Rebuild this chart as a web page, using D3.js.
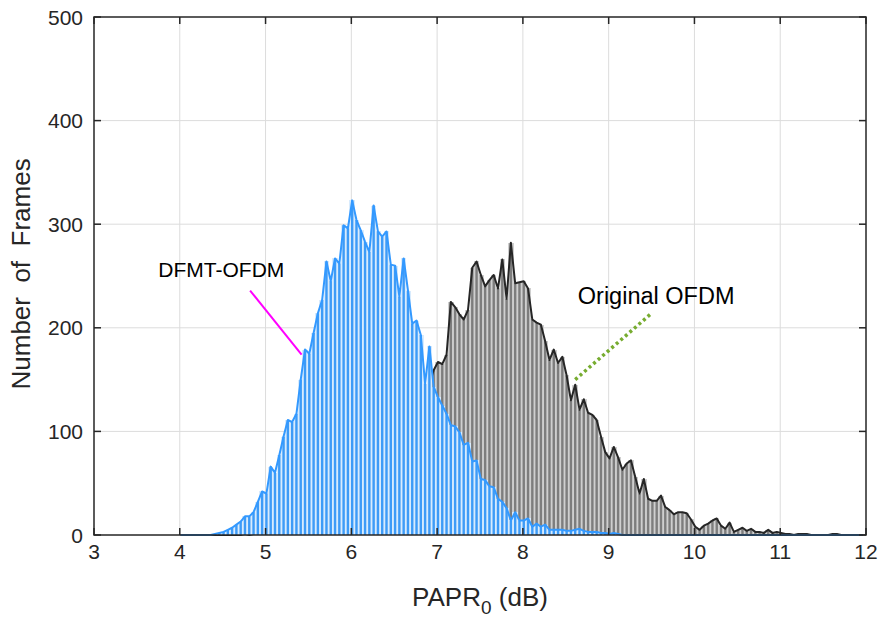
<!DOCTYPE html>
<html><head><meta charset="utf-8">
<script src="https://cdn.jsdelivr.net/npm/d3@7/dist/d3.min.js"></script>
<style>body{margin:0;background:#fff}svg{display:block}</style>
</head><body><svg id="chart" width="885" height="617"></svg>
<script>
// Histogram bins: centres start at 4.01 dB, width 0.05 dB
const binStart = 4.01;
const binWidth = 0.05;
const dfmtCounts = [
  0,0,0,0,0,0,0,0,
  1,2,3,5,7,10,13,18,18,22,32,42,
  40,66,60,77,95,111,109,117,150,179,
  175,195,214,227,264,245,267,262,299,296,
  323,304,294,283,273,318,293,288,293,261,
  260,230,267,236,204,207,193,146,182,143,
  133,125,117,106,105,99,87,89,71,72,
  54,53,47,46,35,32,26,14,22,14,
  14,16,8,11,8,10,5,5,5,5,
  4,4,5,6,4,3,3,3,2,2,
  1,2,1,0,0,0,0,0,0,0,
  0,0,0,0,0,0,0,0,0,0,
  0,0,0,0,0,0,0,0,0,0,
  0,0,0,0,0,0,0,0,0,0,
  0,0,0,0,0,0,0,0,0,0,
  0,0,0,0,0,0,0,0,0,0
];
const ofdmCounts = [
  0,0,0,0,0,0,0,0,
  0,0,0,0,0,0,0,1,0,1,1,2,
  2,3,4,5,6,8,9,11,13,15,
  18,21,24,28,31,36,40,45,51,56,
  62,67,74,80,86,91,98,104,110,116,
  121,126,130,134,138,141,138,130,145,159,
  167,165,174,225,220,213,208,217,258,264,
  251,240,246,251,238,266,228,282,243,244,
  245,238,208,205,203,187,169,179,166,172,
  154,130,145,121,131,118,116,111,95,80,
  74,85,75,63,69,72,56,40,54,35,
  33,33,38,27,24,20,22,22,21,15,
  8,5,9,11,14,16,9,6,12,3,
  5,7,4,6,3,3,2,5,2,3,
  2,1,1,0,1,1,1,0,0,0,
  0,0,1,1,0,0,0,0,0,0
];
const xTicks = [3,4,5,6,7,8,9,10,11,12];
const yTicks = [0,100,200,300,400,500];
const xLabel = "PAPR";
const xLabelSub = "0";
const xLabelUnit = " (dB)";
const yLabel = "Number  of  Frames";
const dfmtName = "DFMT-OFDM";
const ofdmName = "Original OFDM";
// annotation pointers in data coordinates [x, y]
const dfmtPointer = [[4.82, 236], [5.42, 174]];
const ofdmPointer = [[8.61, 150], [9.50, 214]];
const dfmtTextPos = [3.75, 249];
const ofdmTextPos = [8.64, 223];

const svg = d3.select("#chart");
const m = {l: 94, r: 866, t: 17, b: 535};
const x = d3.scaleLinear().domain([3, 12]).range([m.l, m.r]);
const y = d3.scaleLinear().domain([0, 500]).range([m.b, m.t]);
const font = "'Liberation Sans', Arial, Helvetica, sans-serif";
const ink = "#262626";

// grid
const g = svg.append("g");
g.selectAll(".gx").data(xTicks.slice(1, -1)).join("line")
  .attr("x1", d => x(d)).attr("x2", d => x(d)).attr("y1", m.t).attr("y2", m.b)
  .attr("stroke", "#dcdcdc").attr("stroke-width", 1);
g.selectAll(".gy").data(yTicks.slice(1, -1)).join("line")
  .attr("y1", d => y(d)).attr("y2", d => y(d)).attr("x1", m.l).attr("x2", m.r)
  .attr("stroke", "#dcdcdc").attr("stroke-width", 1);

function bins(arr) {
  return arr.map((v, i) => ({c: binStart + i * binWidth, v}));
}
const blue = bins(dfmtCounts), gray = bins(ofdmCounts);

function drawBars(data, light, dark) {
  const gg = svg.append("g");
  const nz = data.filter(d => d.v > 0);
  gg.selectAll(".l").data(nz).join("rect")
    .attr("x", d => x(d.c - binWidth / 2) - 0.6)
    .attr("width", d => x(d.c + binWidth / 2) - x(d.c - binWidth / 2) + 1.2)
    .attr("y", d => y(d.v)).attr("height", d => y(0) - y(d.v)).attr("fill", light)
    .attr("shape-rendering", "crispEdges");
  gg.selectAll(".d").data(nz).join("rect")
    .attr("x", d => x(d.c - binWidth * 0.28)).attr("width", d => x(d.c + binWidth * 0.28) - x(d.c - binWidth * 0.28))
    .attr("y", d => y(d.v)).attr("height", d => y(0) - y(d.v)).attr("fill", dark);
}
const line = d3.line().x(d => x(d.c)).y(d => y(d.v));

drawBars(gray, "#cfcfcf", "#7d7d7d");
svg.append("path").datum(gray).attr("d", line).attr("fill", "none")
  .attr("stroke", "#262626").attr("stroke-width", 2).attr("stroke-linejoin", "round");
drawBars(blue, "#d8ebfd", "#3d9bf7");
svg.append("path").datum(blue).attr("d", line).attr("fill", "none")
  .attr("stroke", "#3399ff").attr("stroke-width", 2).attr("stroke-linejoin", "round");

// axes box
const ax = svg.append("g");
ax.append("rect").attr("x", m.l).attr("y", m.t).attr("width", m.r - m.l).attr("height", m.b - m.t)
  .attr("fill", "none").attr("stroke", ink).attr("stroke-width", 1.5);
const tl = 7;
xTicks.forEach(t => {
  ax.append("line").attr("x1", x(t)).attr("x2", x(t)).attr("y1", m.b).attr("y2", m.b - tl).attr("stroke", ink).attr("stroke-width", 1.5);
  ax.append("line").attr("x1", x(t)).attr("x2", x(t)).attr("y1", m.t).attr("y2", m.t + tl).attr("stroke", ink).attr("stroke-width", 1.5);
  ax.append("text").attr("x", x(t)).attr("y", m.b + 24).attr("text-anchor", "middle")
    .attr("font-family", font).attr("font-size", 21).attr("fill", ink).text(t);
});
yTicks.forEach(t => {
  ax.append("line").attr("x1", m.l).attr("x2", m.l + tl).attr("y1", y(t)).attr("y2", y(t)).attr("stroke", ink).attr("stroke-width", 1.5);
  ax.append("line").attr("x1", m.r).attr("x2", m.r - tl).attr("y1", y(t)).attr("y2", y(t)).attr("stroke", ink).attr("stroke-width", 1.5);
  ax.append("text").attr("x", m.l - 11).attr("y", y(t) + 7.5).attr("text-anchor", "end")
    .attr("font-family", font).attr("font-size", 21).attr("fill", ink).text(t);
});

// axis labels
const xl = svg.append("text").attr("x", x(7.5)).attr("y", 606).attr("text-anchor", "middle")
  .attr("font-family", font).attr("font-size", 26).attr("fill", ink);
xl.append("tspan").text(xLabel);
xl.append("tspan").attr("font-size", 19).attr("dy", 8).text(xLabelSub);
xl.append("tspan").attr("dy", -8).text(xLabelUnit);
svg.append("text").attr("transform", `translate(30,${y(252)}) rotate(-90)`).attr("text-anchor", "middle")
  .attr("font-family", font).attr("font-size", 26).attr("fill", ink).attr("xml:space", "preserve")
  .style("white-space", "pre").text(yLabel);

// annotations
svg.append("line").attr("x1", x(dfmtPointer[0][0])).attr("y1", y(dfmtPointer[0][1]))
  .attr("x2", x(dfmtPointer[1][0])).attr("y2", y(dfmtPointer[1][1]))
  .attr("stroke", "#ff00ff").attr("stroke-width", 2);
svg.append("line").attr("x1", x(ofdmPointer[0][0])).attr("y1", y(ofdmPointer[0][1]))
  .attr("x2", x(ofdmPointer[1][0])).attr("y2", y(ofdmPointer[1][1]))
  .attr("stroke", "#77ac30").attr("stroke-width", 3.5).attr("stroke-dasharray", "3,3");
svg.append("text").attr("x", x(dfmtTextPos[0])).attr("y", y(dfmtTextPos[1]))
  .attr("font-family", font).attr("font-size", 21).attr("fill", "#000").text(dfmtName);
svg.append("text").attr("x", x(ofdmTextPos[0])).attr("y", y(ofdmTextPos[1]))
  .attr("font-family", font).attr("font-size", 23.5).attr("fill", "#000").text(ofdmName);
</script>
</body></html>
